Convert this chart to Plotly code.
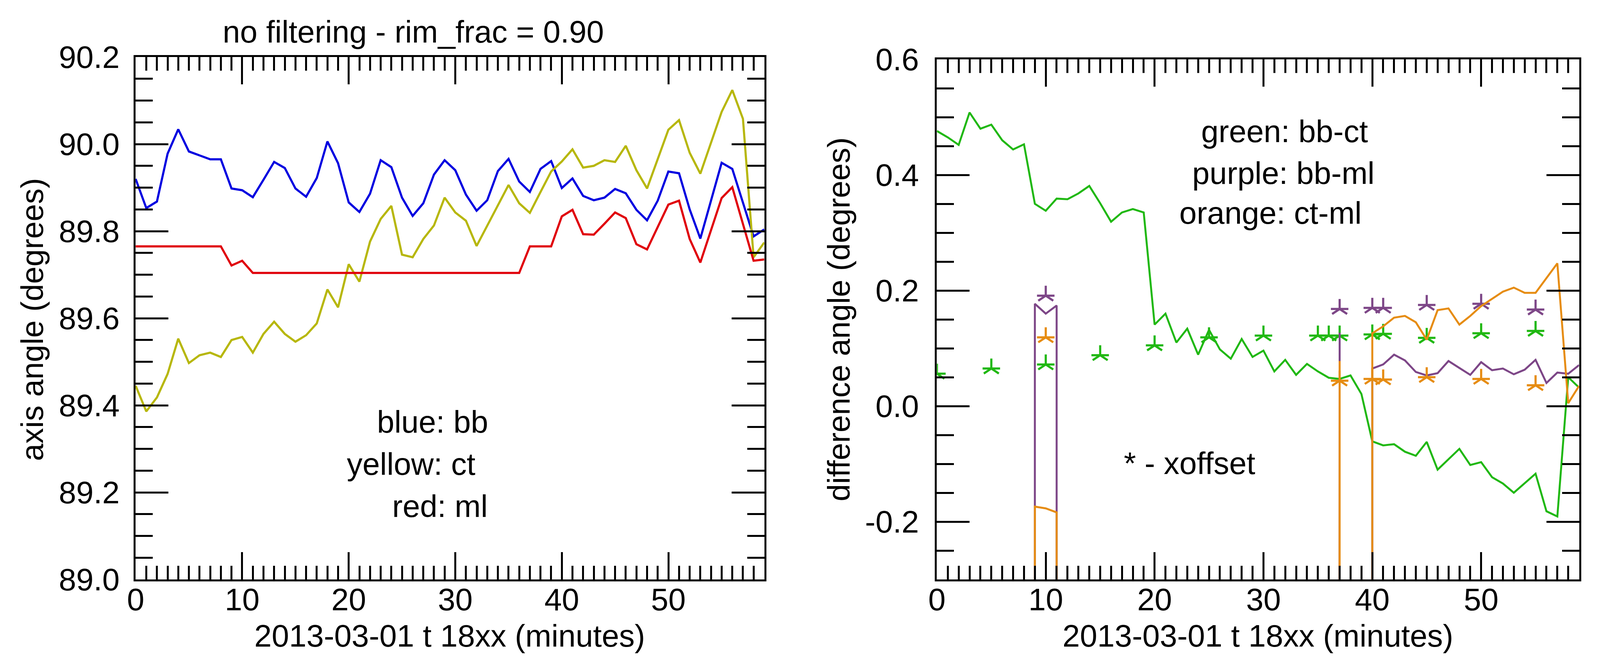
import plotly.graph_objects as go

# reference geometry is measured in a 4365 x 1698 picture; the browser viewport is 4096 wide
REF_W, REF_H = 4365, 1698
W, H = 4096, 1698
SX = W / REF_W
FONT = "Liberation Sans"
FS = 80

minutes = list(range(60))

bb = [89.920, 89.853, 89.868, 89.978, 90.034, 89.983, 89.974, 89.965, 89.965, 89.898,
      89.894, 89.878, 89.918, 89.959, 89.945, 89.898, 89.879, 89.922, 90.006, 89.956,
      89.866, 89.844, 89.886, 89.963, 89.947, 89.877, 89.835, 89.864, 89.930, 89.963,
      89.940, 89.884, 89.847, 89.871, 89.938, 89.966, 89.914, 89.890, 89.943, 89.961,
      89.899, 89.921, 89.881, 89.871, 89.877, 89.897, 89.887, 89.849, 89.825, 89.870,
      89.937, 89.933, 89.850, 89.783, 89.870, 89.957, 89.943, 89.866, 89.788, 89.804]
ct = [89.445, 89.386, 89.418, 89.472, 89.553, 89.497, 89.515, 89.521, 89.511, 89.550,
      89.557, 89.521, 89.564, 89.592, 89.564, 89.546, 89.561, 89.588, 89.666, 89.625,
      89.724, 89.684, 89.776, 89.828, 89.858, 89.746, 89.740, 89.782, 89.813, 89.877,
      89.843, 89.824, 89.766, 89.812, 89.860, 89.906, 89.864, 89.842, 89.890, 89.937,
      89.960, 89.988, 89.946, 89.950, 89.963, 89.959, 89.996, 89.940, 89.898, 89.964,
      90.033, 90.055, 89.980, 89.932, 90.002, 90.074, 90.124, 90.058, 89.740, 89.774]
ml = [89.765, 89.765, 89.765, 89.765, 89.765, 89.765, 89.765, 89.765, 89.765, 89.721,
      89.732, 89.704, 89.704, 89.704, 89.704, 89.704, 89.704, 89.704, 89.704, 89.704,
      89.704, 89.704, 89.704, 89.704, 89.704, 89.704, 89.704, 89.704, 89.704, 89.704,
      89.704, 89.704, 89.704, 89.704, 89.704, 89.704, 89.704, 89.765, 89.765, 89.765,
      89.834, 89.849, 89.793, 89.792, 89.817, 89.843, 89.830, 89.770, 89.758, 89.809,
      89.861, 89.870, 89.782, 89.728, 89.802, 89.876, 89.901, 89.816, 89.732, 89.735]

bb_ct = [0.476, 0.465, 0.452, 0.508, 0.480, 0.487, 0.460, 0.444, 0.453, 0.350,
         0.338, 0.359, 0.358, 0.368, 0.381, 0.351, 0.319, 0.335, 0.341, 0.335,
         0.141, 0.160, 0.110, 0.134, 0.089, 0.132, 0.098, 0.082, 0.116, 0.085,
         0.096, 0.060, 0.080, 0.054, 0.073, 0.060, 0.049, 0.047, 0.053, 0.021,
         -0.061, -0.068, -0.066, -0.079, -0.086, -0.062, -0.110, -0.092, -0.074, -0.102,
         -0.097, -0.123, -0.134, -0.150, -0.133, -0.117, -0.182, -0.191, 0.050, 0.032]
# -999 = invalid value (far below the axis range)
bb_ml = [-999, -999, -999, -999, -999, -999, -999, -999, -999, 0.177,
         0.160, 0.174, -999, -999, -999, -999, -999, -999, -999, -999,
         -999, -999, -999, -999, -999, -999, -999, -999, -999, -999,
         -999, -999, -999, -999, -999, -999, -999, 0.127, -999, -999,
         0.065, 0.072, 0.089, 0.079, 0.059, 0.053, 0.057, 0.078, 0.066, 0.054,
         0.076, 0.062, 0.065, 0.055, 0.063, 0.080, 0.040, 0.058, 0.056, 0.071]
ct_ml = [-999, -999, -999, -999, -999, -999, -999, -999, -999, -0.174,
         -0.177, -0.184, -999, -999, -999, -999, -999, -999, -999, -999,
         -999, -999, -999, -999, -999, -999, -999, -999, -999, -999,
         -999, -999, -999, -999, -999, -999, -999, 0.078, -999, -999,
         0.126, 0.138, 0.153, 0.156, 0.145, 0.115, 0.166, 0.169, 0.141, 0.156,
         0.173, 0.186, 0.198, 0.205, 0.196, 0.196, 0.222, 0.247, 0.005, 0.035]

xo_green_t = [0, 5, 10, 15, 20, 25, 30, 35, 36, 37, 40, 41, 45, 50, 55]
xo_green = [0.056, 0.065, 0.072, 0.088, 0.105, 0.119, 0.122, 0.122, 0.122, 0.122,
            0.124, 0.125, 0.118, 0.126, 0.130]
xo_purple_t = [10, 37, 40, 41, 45, 50, 55]
xo_purple = [0.191, 0.168, 0.170, 0.170, 0.175, 0.177, 0.167]
xo_orange_t = [10, 37, 40, 41, 45, 50, 55]
xo_orange = [0.119, 0.044, 0.047, 0.046, 0.050, 0.047, 0.036]

right_yticks = [-0.2, 0.0, 0.2, 0.4, 0.6]
right_yticktext = ["-0.2", "0.0", "0.2", "0.4", "0.6"]

C_BLUE = "#0000e0"
C_YEL = "#b7b70c"
C_RED = "#e0000a"
C_GREEN = "#20b812"
C_PURPLE = "#7d4687"
C_ORANGE = "#e68c12"

fig = go.Figure()

def line(x, y, color, width, xa, ya):
    fig.add_trace(go.Scatter(x=x, y=y, mode="lines", line=dict(color=color, width=width),
                             xaxis=xa, yaxis=ya, showlegend=False, hoverinfo="skip"))

def stars(x, y, color, xa, ya):
    # five-armed asterisk built from two line symbols
    for sym in ["y-up-open", "line-ew-open"]:
        fig.add_trace(go.Scatter(x=x, y=y, mode="markers",
                                 marker=dict(symbol=sym, size=32, color=color,
                                             line=dict(color=color, width=5.5)),
                                 xaxis=xa, yaxis=ya, showlegend=False, hoverinfo="skip"))

line(minutes, bb, C_BLUE, 5.5, "x", "y")
line(minutes, ct, C_YEL, 5.5, "x", "y")
line(minutes, ml, C_RED, 5.5, "x", "y")

line(minutes, bb_ct, C_GREEN, 5, "x2", "y2")
stars(xo_green_t, xo_green, C_GREEN, "x2", "y2")
line(minutes, bb_ml, C_PURPLE, 5, "x2", "y2")
stars(xo_purple_t, xo_purple, C_PURPLE, "x2", "y2")
line(minutes, ct_ml, C_ORANGE, 5, "x2", "y2")
stars(xo_orange_t, xo_orange, C_ORANGE, "x2", "y2")

def px(xp):
    return xp / REF_W

def py(yp):
    return 1 - yp / REF_H

tickfont = dict(family=FONT, size=FS, color="black")
common = dict(showline=True, linewidth=5, linecolor="black", mirror="ticks",
              ticks="inside", tickwidth=5, tickcolor="black", showgrid=False,
              zeroline=False, tickfont=tickfont, automargin=False)

xcommon = dict(common, range=[0, 59], tickmode="linear", tick0=0, dtick=10, ticklen=70,
               ticklabelstandoff=-22,
               minor=dict(tickmode="linear", tick0=0, dtick=1, ticklen=35, tickwidth=5,
                          tickcolor="black", ticks="inside", showgrid=False))

YT_MAJ = round(90 * SX)
YT_MIN = round(47 * SX)

fig.update_layout(
    width=W, height=H, margin=dict(l=0, r=0, t=0, b=0, autoexpand=False),
    paper_bgcolor="white", plot_bgcolor="white", showlegend=False,
    xaxis=dict(xcommon, domain=[px(370), px(2085)], anchor="y"),
    yaxis=dict(common, domain=[py(1484), py(146)], anchor="x", range=[89.0, 90.2],
               tickmode="linear", tick0=89.0, dtick=0.2, tickformat=".1f", ticklen=YT_MAJ,
               ticklabelstandoff=20,
               minor=dict(tickmode="linear", tick0=89.0, dtick=0.05, ticklen=YT_MIN, tickwidth=5,
                          tickcolor="black", ticks="inside", showgrid=False)),
    xaxis2=dict(xcommon, domain=[px(2556), px(4308)], anchor="y2"),
    yaxis2=dict(common, domain=[py(1484), py(152)], anchor="x2", range=[-0.3, 0.6],
                tickmode="array", tickvals=right_yticks, ticktext=right_yticktext, ticklen=YT_MAJ,
                ticklabelstandoff=25,
                minor=dict(tickmode="linear", tick0=0.0, dtick=0.05, ticklen=YT_MIN, tickwidth=5,
                           tickcolor="black", ticks="inside", showgrid=False)),
)

def text(s, x, y, angle=0, xanchor="center"):
    fig.add_annotation(text=s, x=px(x), y=py(y), xref="paper", yref="paper",
                       showarrow=False, xanchor=xanchor, yanchor="middle", textangle=angle,
                       font=dict(family=FONT, size=FS, color="black"))

text("no filtering - rim_frac = 0.90", 1128, 81)
text("axis angle (degrees)", 87, 818, angle=-90)
text("2013-03-01 t 18xx (minutes)", 1227, 1628)
text("difference angle (degrees)", 2288, 818, angle=-90)
text("2013-03-01 t 18xx (minutes)", 3432, 1628)
text("blue: bb", 1180, 1080)
text("yellow: ct", 1122, 1188)
text("red: ml", 1201, 1296)
text("green: bb-ct", 3504, 337)
text("purple: bb-ml", 3501, 443)
text("orange: ct-ml", 3466, 545)
text("* - xoffset", 3245, 1186)

post = """
document.documentElement.style.margin='0';
document.documentElement.style.overflow='hidden';
document.body.style.margin='0';
document.body.style.overflow='hidden';
var gd = document.getElementById('{plot_id}');
var w = window.innerWidth, h = window.innerHeight;
if (w > 0 && h > 0 && (w !== gd.layout.width || h !== gd.layout.height)) {
  Plotly.relayout(gd, {width: w, height: h});
}
"""

fig.write_html("out.html", post_script=post, config={"displayModeBar": False})
